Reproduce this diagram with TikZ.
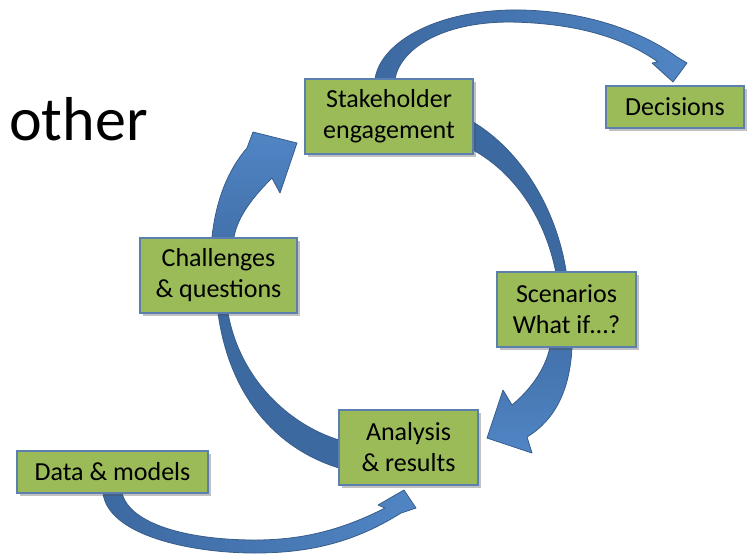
\documentclass[tikz,border=0pt]{standalone}
\usepackage{fontspec}
\setmainfont{Carlito}
\usetikzlibrary{shadows}
\definecolor{boxgreen}{HTML}{9BBB59}
\definecolor{boxedge}{HTML}{5B7FAF}
\definecolor{arrdark}{HTML}{3D69A1}
\definecolor{arrlight}{HTML}{5085C4}
\definecolor{arredge}{HTML}{385D8A}
\begin{document}
\begin{tikzpicture}[x=1pt,y=-1pt,
  box/.style={draw=boxedge, line width=1.1pt, fill=boxgreen, align=center, inner sep=0pt,
    font=\fontsize{26}{31}\selectfont,
    drop shadow={opacity=0.35, shadow xshift=2.5pt, shadow yshift=-3pt, fill=black!70}},
  blockarrow/.style={draw=arredge, line width=0.8pt, line join=round}]
\useasboundingbox (0,0) rectangle (754,555);

% ---- block arrows (drawn first, boxes cover their ends) ----
% Stakeholder -> Decisions
\path[blockarrow, left color=arrdark, right color=arrlight]
  (377,100) -- (375,79) .. controls (380,45) and (430,12) .. (510,10)
  .. controls (580,9) and (640,30) .. (677,57) -- (687,63) -- (673,82) -- (652,63) -- (658,62)
  .. controls (620,35) and (570,23) .. (510,22)
  .. controls (440,22) and (400,50) .. (395,79) -- (395,100) -- cycle;
% Stakeholder -> Scenarios (upper part)
\path[blockarrow, fill=arrdark]
  (450,122) -- (473,122) .. controls (520,150) and (560,210) .. (568,285)
  -- (558,285) .. controls (548,215) and (510,170) .. (473,150) -- (450,150) -- cycle;
% Scenarios -> Analysis
\path[blockarrow, top color=arrdark!80!arrlight, bottom color=arrlight]
  (574,330) -- (572,347) .. controls (570,390) and (555,420) .. (527,437)
  -- (532,453) -- (487,438) -- (503,390) -- (512,405)
  .. controls (530,390) and (545,370) .. (550,347) -- (548,330) -- cycle;
% Analysis -> Challenges
\path[blockarrow, fill=arrdark]
  (360,468) -- (339,468) .. controls (280,450) and (230,400) .. (218,313)
  -- (218,300) -- (228,300) -- (228,313) .. controls (240,380) and (290,425) .. (339,440)
  -- (360,440) -- cycle;
% Challenges -> Stakeholder
\path[blockarrow, bottom color=arrdark!80!arrlight, top color=arrlight]
  (212,255) -- (212,237) .. controls (216,200) and (228,170) .. (247,148)
  -- (253,132) -- (297,143) -- (280,193) -- (272,178)
  .. controls (255,195) and (238,215) .. (234,237) -- (234,255) -- cycle;
% Data -> Analysis
\path[blockarrow, left color=arrdark, right color=arrlight]
  (103,480) -- (103,493) .. controls (108,535) and (190,553) .. (255,553)
  .. controls (310,553) and (355,542) .. (401,513) -- (416,508) -- (404,490) -- (378,505) -- (385,508)
  .. controls (340,531) and (300,540) .. (255,540)
  .. controls (190,540) and (130,525) .. (122,493) -- (122,480) -- cycle;

% ---- boxes ----
\node[box, minimum width=168pt, minimum height=75pt] (stake) at (389,116.5) {Stakeholder\\engagement};
\node[box, minimum width=138pt, minimum height=42pt] (dec) at (675,107) {Decisions};
\node[box, minimum width=157pt, minimum height=75pt] (chal) at (218.5,275.5) {Challenges\\\& questions};
\node[box, minimum width=139pt, minimum height=75pt] (scen) at (566.5,309.5) {Scenarios\\What if…?};
\node[box, minimum width=139pt, minimum height=75pt] (anal) at (408.5,447.5) {Analysis\\\& results};
\node[box, minimum width=191pt, minimum height=42pt] (data) at (112.5,472) {Data \& models};

% ---- title fragment ----
\node[anchor=base west, inner sep=0pt, font=\fontsize{62}{70}\selectfont] (other) at (9,140) {other};
\end{tikzpicture}
\end{document}
